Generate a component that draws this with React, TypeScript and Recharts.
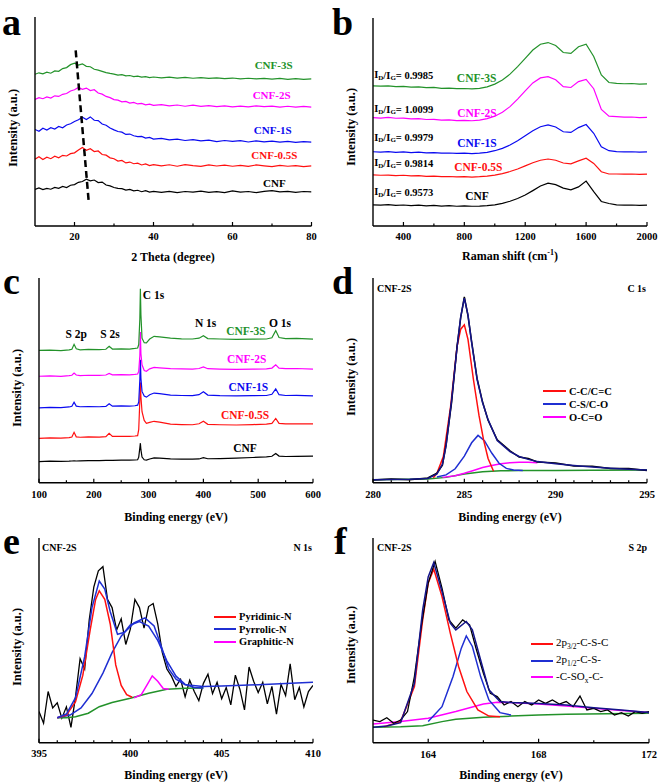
import React from "react";
import { LineChart, Line, XAxis, YAxis, ReferenceDot, ReferenceLine } from "recharts";

const FONT = "'Times New Roman', 'Liberation Serif', serif";
const GREEN = "#23922a";
const MAGENTA = "#ff00ff";
const BLUE = "#0a0af0";
const RED = "#ff1010";
const BLACK = "#000000";
const NAVY = "#14148a";
const FIT_BLUE = "#1f2fd2";

// ---- a: XRD ----
const thetaX = [
  10, 11, 12, 13, 14, 15, 16, 17, 18, 19, 20, 21, 22, 23, 24, 25, 26, 27, 28, 29, 30, 31, 32, 33, 34, 35, 36, 37, 38, 39,
  40, 42, 44, 46, 48, 50, 52, 54, 56, 58, 60, 62, 64, 66, 68, 70, 72, 74, 76, 78, 80,
];
const xrdCNF = [
  17.5, 18.2, 17.4, 18.0, 17.6, 18.5, 18.0, 18.9, 18.4, 19.5, 19.8, 20.9, 21.3, 22.4, 21.6, 22.0, 20.8, 21.0, 19.6, 19.2,
  18.4, 18.0, 17.9, 17.2, 17.5, 16.8, 17.1, 16.4, 16.9, 16.2, 16.6, 16.1, 16.6, 16.0, 16.5, 16.2, 16.7, 16.1, 16.4, 16.0,
  16.8, 16.2, 16.5, 16.0, 16.6, 16.9, 16.3, 16.6, 16.1, 16.5, 16.3,
];
const xrd05S = [
  32.0, 33.1, 31.8, 32.9, 32.2, 33.4, 32.6, 33.8, 33.5, 34.6, 35.0, 36.4, 37.6, 36.2, 37.0, 35.6, 35.9, 34.2, 33.9, 32.6,
  32.2, 31.1, 31.4, 30.2, 30.6, 29.8, 30.1, 29.2, 29.7, 28.9, 29.4, 28.8, 29.3, 28.6, 29.4, 28.9, 28.5, 29.2, 28.7, 29.1,
  28.6, 29.0, 28.5, 29.2, 28.8, 28.4, 29.0, 28.6, 28.9, 28.4, 28.8,
];
const xrd1S = [
  46.2, 45.3, 46.8, 45.9, 47.0, 46.4, 47.6, 47.0, 48.3, 48.9, 50.0, 50.8, 52.0, 50.9, 52.2, 50.6, 50.4, 48.8, 48.2, 46.9,
  46.0, 45.2, 44.9, 43.8, 44.0, 43.2, 42.8, 42.9, 42.1, 42.4, 41.6, 41.9, 41.2, 41.6, 40.9, 41.3, 40.7, 41.1, 40.4, 40.9,
  40.5, 40.8, 40.2, 40.7, 40.3, 40.6, 40.1, 40.5, 40.0, 40.4, 40.1,
];
const xrd2S = [
  60.6, 61.4, 60.9, 61.8, 61.2, 62.3, 62.0, 63.0, 63.4, 64.6, 65.2, 66.3, 65.4, 66.0, 64.8, 65.2, 63.6, 63.1, 62.0, 61.4,
  60.5, 60.2, 59.4, 59.6, 58.8, 59.1, 58.4, 58.7, 58.0, 58.3, 57.7, 58.1, 57.5, 57.9, 57.3, 57.8, 57.2, 57.6, 57.1, 57.5,
  57.0, 57.4, 57.0, 57.5, 57.1, 57.4, 56.9, 57.3, 56.9, 57.2, 56.9,
];
const xrd3S = [
  72.6, 73.3, 72.8, 73.6, 73.1, 74.2, 74.0, 75.3, 75.8, 77.2, 77.9, 77.0, 77.6, 76.4, 76.2, 75.0, 74.6, 74.0, 73.4, 73.0,
  72.7, 72.2, 72.4, 71.8, 72.0, 71.5, 71.7, 71.2, 71.5, 71.0, 71.3, 70.9, 71.2, 70.8, 71.1, 70.7, 71.0, 70.6, 70.9, 70.5,
  70.8, 70.4, 70.7, 70.4, 70.6, 70.3, 70.6, 70.2, 70.5, 70.2, 70.4,
];
// dashed guide through the (002) peak
const shiftGuide = [
  { x: 20.3, y: 84 },
  { x: 23.6, y: 11.6 },
];

// ---- b: Raman ----
const ramanX = [
  200, 250, 300, 350, 400, 450, 500, 550, 600, 650, 700, 750, 800, 850, 900, 950, 1000, 1050, 1100, 1150, 1200, 1250,
  1300, 1350, 1400, 1450, 1500, 1550, 1600, 1650, 1700, 1750, 1800, 1850, 1900, 1950, 2000,
];
const ramanCNF = [
  10.2, 10.0, 10.3, 9.9, 10.1, 9.8, 10.0, 9.7, 9.9, 9.6, 9.8, 9.5, 9.7, 9.5, 9.6, 9.8, 10.2, 10.9, 11.9, 13.2, 14.9, 17.0,
  19.2, 20.6, 19.9, 18.2, 17.4, 18.8, 21.6, 16.5, 11.8, 10.8, 10.2, 10.0, 10.1, 9.9, 10.0,
];
const raman05S = [
  24.6, 24.4, 24.5, 24.2, 24.4, 24.1, 24.2, 23.9, 24.0, 23.7, 23.8, 23.6, 23.7, 23.5, 23.7, 24.0, 24.5, 25.2, 26.2, 27.4,
  28.9, 30.4, 31.6, 32.2, 31.6, 30.3, 29.9, 31.3, 32.6, 30.1, 26.1, 25.0, 25.0, 24.9, 25.0, 24.8, 24.9,
];
const raman1S = [
  35.7, 35.5, 35.8, 35.4, 35.6, 35.3, 35.5, 35.2, 35.3, 35.0, 35.1, 34.9, 35.0, 34.8, 35.0, 35.4, 36.2, 37.3, 38.9, 41.0,
  43.4, 45.8, 47.7, 48.6, 47.6, 45.3, 45.0, 47.3, 48.8, 44.6, 38.1, 36.2, 35.8, 35.6, 35.7, 35.5, 35.6,
];
const raman2S = [
  52.1, 51.9, 52.2, 51.8, 51.9, 51.5, 51.6, 51.2, 51.3, 50.9, 51.0, 50.7, 50.8, 50.6, 50.9, 51.6, 52.8, 54.7, 57.4, 61.0,
  65.0, 68.8, 71.2, 71.8, 70.3, 67.0, 66.6, 69.4, 70.5, 66.0, 56.0, 52.8, 52.6, 52.3, 52.4, 52.1, 52.2,
];
const raman3S = [
  67.4, 67.2, 67.4, 67.0, 67.1, 66.8, 66.9, 66.5, 66.6, 66.2, 66.3, 66.0, 66.1, 65.9, 66.2, 66.9, 68.2, 70.2, 73.0, 76.6,
  80.6, 84.6, 87.4, 88.2, 86.8, 83.4, 83.0, 86.2, 87.4, 81.5, 72.6, 69.0, 68.6, 68.4, 68.5, 68.2, 68.3,
];
const idigRatios = ["0.9573", "0.9814", "0.9979", "1.0099", "0.9985"];

// ---- c: XPS survey ----
const surveyX = [
  100, 120, 140, 155, 160, 164, 168, 175, 190, 210, 222, 228, 234, 250, 265, 275, 280, 282, 284, 285, 286, 288, 292, 296,
  302, 310, 320, 340, 360, 380, 392, 400, 408, 430, 460, 490, 515, 525, 532, 538, 550, 570, 600,
];
const surveyCNF = [
  10.3, 10.5, 10.4, 10.5, 10.6, 10.7, 10.6, 10.7, 10.8, 10.8, 10.9, 10.9, 10.9, 11.0, 11.0, 11.1, 11.2, 12.5, 17.0, 19.3,
  16.0, 12.5, 11.2, 11.0, 11.6, 12.1, 12.0, 11.6, 11.5, 11.5, 11.6, 12.2, 11.7, 11.8, 12.0, 12.3, 12.6, 12.9, 14.3, 13.0,
  12.8, 12.9, 13.0,
];
const survey05S = [
  21.7, 21.9, 21.8, 22.0, 22.3, 24.6, 22.4, 22.2, 22.4, 22.3, 22.5, 24.1, 22.6, 22.7, 22.6, 22.8, 23.0, 26.0, 40.0, 49.0,
  42.0, 34.7, 30.4, 29.0, 29.5, 30.0, 29.6, 28.6, 28.4, 28.3, 28.8, 30.0, 28.5, 28.3, 28.2, 28.4, 28.6, 29.0, 31.4, 29.0,
  28.7, 28.8, 28.7,
];
const survey1S = [
  36.6, 36.8, 36.7, 37.0, 37.3, 39.3, 37.4, 37.1, 37.2, 37.1, 37.3, 38.6, 37.4, 37.5, 37.4, 37.6, 37.9, 39.5, 50.0, 60.0,
  51.0, 44.6, 42.3, 41.8, 43.0, 43.8, 43.5, 42.8, 42.6, 42.5, 43.0, 44.4, 42.8, 42.5, 42.4, 42.5, 42.6, 43.2, 45.8, 43.0,
  42.6, 42.7, 42.4,
];
const survey2S = [
  52.0, 52.2, 51.9, 52.3, 52.5, 53.6, 52.6, 52.3, 52.5, 52.4, 52.6, 53.4, 52.7, 52.8, 52.7, 52.9, 53.1, 54.5, 62.0, 73.6,
  63.0, 57.6, 54.8, 54.4, 55.6, 56.3, 56.1, 55.7, 55.6, 55.5, 55.8, 56.6, 55.7, 55.5, 55.4, 55.5, 55.6, 56.0, 57.6, 56.0,
  55.7, 55.8, 55.5,
];
const survey3S = [
  64.6, 64.8, 64.5, 64.9, 65.2, 67.6, 65.4, 64.9, 65.1, 65.0, 65.2, 66.6, 65.3, 65.4, 65.3, 65.6, 65.8, 67.5, 80.0, 94.8,
  82.0, 70.6, 68.4, 68.3, 70.2, 71.5, 71.2, 70.6, 70.3, 70.2, 70.6, 71.8, 70.4, 70.2, 70.0, 70.1, 70.2, 70.8, 74.3, 70.9,
  70.4, 70.5, 70.1,
];

// ---- d: C 1s ----
const c1sX = [
  280, 281, 282, 283, 283.5, 283.8, 284, 284.3, 284.6, 284.8, 285, 285.2, 285.4, 285.7, 286, 286.3, 286.8, 287.5, 288,
  288.5, 289, 290, 291, 292, 293, 294, 295,
];
const c1sRaw = [
  1.3, 1.8, 1.5, 2.3, 4.6, 8.6, 18.5, 39.0, 66.5, 80.5, 90.8, 81.5, 68.9, 50.8, 39.4, 30.5, 21.0, 15.6, 12.5, 11.8, 10.1,
  9.6, 8.2, 8.0, 6.9, 6.9, 6.0,
];
const c1sFit = [
  1.5, 1.6, 1.7, 2.1, 4.3, 9.0, 18.0, 40.0, 66.0, 81.0, 90.2, 82.0, 68.4, 50.4, 39.0, 30.8, 20.6, 15.2, 12.8, 11.4, 10.3,
  9.2, 8.4, 7.7, 7.1, 6.6, 6.2,
];
const c1sCCX = [283.3, 283.5, 283.85, 284.25, 284.6, 284.8, 285, 285.2, 285.5, 285.8, 286.05, 286.3, 286.6];
const c1sCC = [2.4, 4.6, 12.8, 37.3, 66.5, 75, 77.1, 70, 50.3, 33, 21, 11.8, 5.6];
const c1sCSX = [283.5, 284, 284.5, 285, 285.4, 285.75, 286.1, 286.5, 286.9, 287.3, 287.7, 288.2];
const c1sCS = [2.8, 3.8, 6.8, 13, 19.5, 23.1, 20.5, 14.5, 9.5, 7, 6.2, 6.0];
const c1sOCOX = [283.8, 284.5, 285, 285.5, 286, 286.5, 287, 287.5, 288, 288.5, 289];
const c1sOCO = [2.6, 3.4, 4.6, 6.0, 7.4, 8.4, 9.3, 9.8, 10.0, 10.0, 9.7];
const c1sBaseX = [280, 283, 284, 285, 286, 286.5, 287, 288, 290, 292, 295];
const c1sBase = [1.5, 1.8, 2.6, 4.3, 5.3, 5.6, 5.8, 5.9, 6.0, 6.1, 6.2];

// ---- e: N 1s ----
const n1sX = [
  395, 395.25, 395.5, 395.75, 396, 396.25, 396.5, 396.75, 397, 397.25, 397.5, 397.75, 398, 398.25, 398.5, 398.75, 399,
  399.25, 399.5, 399.75, 400, 400.25, 400.5, 400.75, 401, 401.25, 401.5, 401.75, 402, 402.25, 402.5, 402.75, 403, 403.25,
  403.5, 403.75, 404, 404.25, 404.5, 404.75, 405, 405.25, 405.5, 405.75, 406, 406.25, 406.5, 406.75, 407, 407.25, 407.5,
  407.75, 408, 408.25, 408.5, 408.75, 409, 409.25, 409.5, 409.75, 410,
];
const n1sRaw = [
  15.2, 9.5, 25.0, 17.0, 19.5, 12.0, 17.5, 7.5, 22.5, 41.0, 36.0, 60.0, 76.0, 84.0, 86.0, 70.0, 66.0, 55.0, 60.5, 48.0,
  55.5, 70.0, 66.0, 56.0, 66.5, 68.0, 58.0, 44.0, 36.0, 32.5, 27.5, 31.0, 22.5, 30.5, 25.0, 20.5, 29.0, 33.5, 24.0, 29.5,
  21.5, 27.0, 18.5, 33.0, 26.0, 16.0, 37.0, 30.0, 24.5, 29.5, 19.0, 27.5, 14.0, 28.5, 23.0, 38.5, 21.0, 27.0, 17.5, 25.0,
  28.0,
];
const n1sFitX = [396, 396.5, 397, 397.5, 397.9, 398.3, 398.6, 398.9, 399.3, 399.7, 400.2, 400.8, 401.3, 401.7, 402.1, 402.5, 403, 404, 405, 407, 410];
const n1sFit = [12.2, 14, 22, 42, 66, 79, 75, 64, 53, 54, 58.5, 61, 57, 47, 36, 31, 28.3, 27.4, 27.7, 28.3, 29.5];
const pyridinicX = [396, 396.5, 397, 397.4, 397.8, 398.1, 398.3, 398.6, 398.9, 399.2, 399.5, 399.8, 400.1];
const pyridinic = [12.2, 13.5, 20, 33, 55, 70, 74.2, 70, 58, 38, 28, 23.5, 22.2];
const pyrrolicX = [396, 396.7, 397.3, 397.9, 398.5, 399, 399.5, 400, 400.5, 401, 401.5, 402, 402.5, 403, 403.5, 404];
const pyrrolic = [12.2, 13.5, 17, 24, 34, 44, 52, 57.5, 59.2, 57, 50, 40, 32.5, 28.5, 27, 26.7];
const graphiticX = [400.2, 400.6, 400.9, 401.2, 401.5, 401.8, 402.1];
const graphitic = [21.9, 23.5, 28, 32.6, 30, 26.5, 26.1];
const n1sBaseX = [396, 396.5, 397, 397.7, 398.3, 399, 400, 401, 402, 403, 404];
const n1sBase = [12.2, 12.2, 12.7, 14.4, 17.6, 19.6, 21.7, 24.2, 26.1, 26.6, 26.7];

// ---- f: S 2p ----
const s2pX = [
  162, 162.25, 162.5, 162.75, 163, 163.25, 163.5, 163.75, 164, 164.25, 164.5, 164.75, 165, 165.25, 165.5, 165.75, 166,
  166.25, 166.5, 166.75, 167, 167.25, 167.5, 167.75, 168, 168.25, 168.5, 168.75, 169, 169.25, 169.5, 169.75, 170, 170.25,
  170.5, 170.75, 171, 171.25, 171.5, 171.75, 172,
];
const s2pRaw = [
  11.0, 10.3, 12.2, 9.5, 11.1, 15.2, 32.3, 56.8, 78.0, 88.6, 75.5, 60.0, 56.0, 60.0, 57.6, 45.3, 33.9, 24.1, 22.5, 18.4,
  20.1, 17.6, 20.1, 18.4, 20.9, 19.2, 20.9, 18.9, 20.1, 17.6, 22.8, 16.0, 16.8, 15.2, 16.0, 13.5, 14.7, 13.0, 15.2, 14.4,
  15.2,
];
const s2pFitX = [162, 162.5, 163, 163.5, 163.8, 164, 164.2, 164.5, 164.8, 165, 165.38, 165.6, 165.9, 166.2, 166.6, 167, 168, 169, 170, 171, 172];
const s2pFit = [7.5, 8.2, 9.8, 29, 64.9, 81, 88, 73.9, 58.4, 55.1, 59.2, 55.1, 40.4, 25.8, 20.1, 19.6, 19.2, 18.4, 17.1, 16, 14.7];
const p32X = [162.4, 163, 163.5, 163.8, 164, 164.2, 164.5, 164.8, 165.1, 165.4, 165.8, 166.2, 166.6];
const p32 = [7.8, 10.3, 27.4, 60, 78, 84.8, 71.4, 53.5, 37.2, 25, 16, 13, 12.7];
const p12X = [164, 164.5, 164.9, 165.2, 165.38, 165.6, 165.9, 166.2, 166.6, 167];
const p12 = [10.3, 17.6, 32.3, 46.2, 52.2, 47, 32.3, 20.9, 14.7, 13.5];
const soxX = [162, 163, 164, 165, 166, 166.5, 167, 168, 169, 170, 171, 172];
const sox = [9.1, 10.3, 11.9, 15.2, 18.9, 19.7, 19.6, 18.9, 17.9, 16.8, 15.7, 14.7];
const s2pBaseX = [162, 163, 163.8, 164.5, 165, 166, 167, 168, 169, 172];
const s2pBase = [7.5, 7.8, 8.3, 10.3, 11.4, 12.4, 13, 13.5, 13.9, 14.4];

type Series = { xs: number[]; ys: number[]; color: string; width?: number };
type Note = { x: number; y: number; text: string; color?: string; size?: number; anchor?: "start" | "middle" | "end"; ratio?: boolean };
type Frame = { left: number; top: number; width: number; height: number; yw: number; mr: number; mt: number; xh: number };

const pts = (xs: number[], ys: number[]) => xs.map((x, i) => ({ x, y: ys[i] }));
const AXIS_LINE = { stroke: "#000", strokeWidth: 1.4 };

function tickRenderer(major: number[], gap: number) {
  return (props: any) => {
    const { x, y, payload } = props;
    const isMajor = major.includes(payload.value);
    return (
      <g>
        <line x1={x} x2={x} y1={y} y2={y - (isMajor ? 4 : 2.5)} stroke="#000" strokeWidth={1.2} />
        {isMajor ? (
          <text x={x} y={y + gap} textAnchor="middle" fontFamily={FONT} fontWeight="bold" fontSize={10.5} fill="#000">
            {payload.value}
          </text>
        ) : null}
      </g>
    );
  };
}

function noteShape(n: Note) {
  return (p: any) => {
    const common = { fontFamily: FONT, fontWeight: "bold", fontSize: n.size ?? 11, dominantBaseline: "central" } as any;
    if (n.ratio) {
      return (
        <text x={p.cx} y={p.cy} textAnchor="start" fill="#000" {...common}>
          I<tspan dy={3} fontSize={7}>D</tspan>
          <tspan dy={-3}>/I</tspan>
          <tspan dy={3} fontSize={7}>G</tspan>
          <tspan dy={-3}>= {n.text}</tspan>
        </text>
      );
    }
    return (
      <text x={p.cx} y={p.cy} textAnchor={n.anchor ?? "middle"} fill={n.color ?? "#000"} {...common}>
        {n.text}
      </text>
    );
  };
}

function PanelChart(props: {
  f: Frame;
  domain: [number, number];
  major: number[];
  minor: number[];
  gap: number;
  series: Series[];
  notes?: Note[];
  children?: React.ReactNode;
}) {
  const { f, domain, major, minor, gap, series, notes = [], children } = props;
  return (
    <div style={{ position: "absolute", left: f.left, top: f.top }}>
      <LineChart width={f.width} height={f.height} margin={{ top: f.mt, right: f.mr, bottom: 0, left: 0 }}>
        <XAxis
          dataKey="x"
          type="number"
          domain={domain}
          allowDataOverflow
          ticks={[...major, ...minor]}
          interval={0}
          tick={tickRenderer(major, gap)}
          tickLine={false}
          tickSize={0}
          tickMargin={0}
          height={f.xh}
          axisLine={AXIS_LINE}
        />
        <XAxis xAxisId="top" orientation="top" dataKey="x" type="number" domain={domain} allowDataOverflow height={0} tick={false} tickLine={false} axisLine={AXIS_LINE} />
        <YAxis type="number" domain={[0, 100]} allowDataOverflow width={f.yw} tick={false} tickLine={false} axisLine={AXIS_LINE} />
        <YAxis yAxisId="right" orientation="right" type="number" domain={[0, 100]} allowDataOverflow width={0} tick={false} tickLine={false} axisLine={AXIS_LINE} />
        {series.map((s, i) => (
          <Line
            key={`s${i}`}
            data={pts(s.xs, s.ys)}
            dataKey="y"
            stroke={s.color}
            strokeWidth={s.width ?? 1.2}
            dot={false}
            activeDot={false}
            isAnimationActive={false}
          />
        ))}
        {notes.map((n, i) => (
          <ReferenceDot key={`n${i}`} x={n.x} y={n.y} r={0} ifOverflow="visible" shape={noteShape(n)} />
        ))}
        {children}
      </LineChart>
    </div>
  );
}

function Txt(props: { x: number; y: number; children: React.ReactNode; size?: number; anchor?: "start" | "center" | "end"; rotate?: boolean; color?: string; weight?: string }) {
  const { x, y, children, size = 12, anchor = "center", rotate = false, color = "#000", weight = "bold" } = props;
  const tx = anchor === "center" ? "-50%" : anchor === "end" ? "-100%" : "0";
  return (
    <div
      style={{
        position: "absolute",
        left: x,
        top: y,
        transform: `translate(${tx}, -50%)${rotate ? " rotate(-90deg)" : ""}`,
        fontFamily: FONT,
        fontSize: size,
        fontWeight: weight as any,
        color,
        whiteSpace: "nowrap",
        lineHeight: 1,
      }}
    >
      {children}
    </div>
  );
}

function Letter({ x, y, ch }: { x: number; y: number; ch: string }) {
  return (
    <div style={{ position: "absolute", left: x, top: y, fontFamily: FONT, fontSize: 38, fontWeight: "bold", lineHeight: "normal" }}>{ch}</div>
  );
}

function LegendBox(props: { left: number; top: number; rowH: number; swatch: number; items: { label: React.ReactNode; color: string }[]; weight?: string; size?: number }) {
  const { left, top, rowH, swatch, items, weight = "bold", size = 10.5 } = props;
  return (
    <div style={{ position: "absolute", left, top, fontFamily: FONT, fontSize: size, fontWeight: weight as any }}>
      {items.map((it, i) => (
        <div key={i} style={{ display: "flex", alignItems: "center", height: rowH, whiteSpace: "nowrap" }}>
          <span style={{ display: "inline-block", width: swatch, height: 0, borderTop: `2px solid ${it.color}`, marginRight: 3 }} />
          <span>{it.label}</span>
        </div>
      ))}
    </div>
  );
}

const frameA: Frame = { left: 0, top: 0, width: 330, height: 262, yw: 35, mr: 18.5, mt: 17, xh: 36 };
const frameB: Frame = { left: 330, top: 0, width: 331, height: 262, yw: 43, mr: 14, mt: 18, xh: 36 };
const frameC: Frame = { left: 0, top: 260, width: 330, height: 262, yw: 39, mr: 17, mt: 18, xh: 39.3 };
const frameD: Frame = { left: 330, top: 260, width: 331, height: 262, yw: 43, mr: 14, mt: 18, xh: 39.3 };
const frameE: Frame = { left: 0, top: 520, width: 330, height: 263, yw: 39, mr: 17, mt: 18, xh: 40.3 };
const frameF: Frame = { left: 330, top: 520, width: 331, height: 263, yw: 43, mr: 12, mt: 18, xh: 40.3 };

const sampleNames = ["CNF", "CNF-0.5S", "CNF-1S", "CNF-2S", "CNF-3S"];
const sampleColors = [BLACK, RED, BLUE, MAGENTA, GREEN];

export default function App() {
  const seriesA: Series[] = [xrdCNF, xrd05S, xrd1S, xrd2S, xrd3S].map((ys, i) => ({ xs: thetaX, ys, color: sampleColors[i] }));
  const seriesB: Series[] = [ramanCNF, raman05S, raman1S, raman2S, raman3S].map((ys, i) => ({ xs: ramanX, ys, color: sampleColors[i] }));
  const seriesC: Series[] = [surveyCNF, survey05S, survey1S, survey2S, survey3S].map((ys, i) => ({ xs: surveyX, ys, color: sampleColors[i] }));

  const labelXA = [70.6, 70.6, 70.2, 69.9, 70.4];
  const labelYA = [20.7, 34, 45.9, 62.7, 77];
  const notesA: Note[] = sampleNames.map((t, i) => ({ x: labelXA[i], y: labelYA[i], text: t, color: sampleColors[i] }));

  const labelXB = [883, 892, 883, 883, 881];
  const labelYB = [14.4, 28.2, 40, 54.5, 71];
  const ratioYB = [16.5, 30.4, 42.6, 56.3, 72.6];
  const notesB: Note[] = [
    ...sampleNames.map((t, i) => ({ x: labelXB[i], y: labelYB[i], text: t, color: sampleColors[i], size: 11.5 })),
    ...idigRatios.map((t, i) => ({ x: 208, y: ratioYB[i], text: t, ratio: true, size: 10.5 })),
  ];

  const labelXC = [476, 476, 482, 479, 477.7];
  const labelYC = [16.8, 33.1, 46.7, 60.4, 73.9];
  const notesC: Note[] = [
    ...sampleNames.map((t, i) => ({ x: labelXC[i], y: labelYC[i], text: t, color: sampleColors[i], size: 11.5 })),
    { x: 168, y: 72.6, text: "S 2p", size: 11.5 },
    { x: 229.6, y: 72.6, text: "S 2s", size: 11.5 },
    { x: 309, y: 91.5, text: "C 1s", size: 11.5 },
    { x: 404, y: 78, text: "N 1s", size: 11.5 },
    { x: 539.8, y: 78, text: "O 1s", size: 11.5 },
  ];

  const seriesD: Series[] = [
    { xs: c1sBaseX, ys: c1sBase, color: GREEN, width: 1.5 },
    { xs: c1sOCOX, ys: c1sOCO, color: MAGENTA, width: 1.5 },
    { xs: c1sCSX, ys: c1sCS, color: FIT_BLUE, width: 1.5 },
    { xs: c1sCCX, ys: c1sCC, color: RED, width: 1.5 },
    { xs: c1sX, ys: c1sRaw, color: BLACK, width: 1.5 },
    { xs: c1sX, ys: c1sFit, color: NAVY, width: 1.5 },
  ];
  const seriesE: Series[] = [
    { xs: n1sX, ys: n1sRaw, color: BLACK, width: 1.3 },
    { xs: n1sBaseX, ys: n1sBase, color: GREEN, width: 1.5 },
    { xs: graphiticX, ys: graphitic, color: MAGENTA, width: 1.5 },
    { xs: pyrrolicX, ys: pyrrolic, color: FIT_BLUE, width: 1.5 },
    { xs: pyridinicX, ys: pyridinic, color: RED, width: 1.5 },
    { xs: n1sFitX, ys: n1sFit, color: FIT_BLUE, width: 1.5 },
  ];
  const seriesF: Series[] = [
    { xs: s2pBaseX, ys: s2pBase, color: GREEN, width: 1.5 },
    { xs: soxX, ys: sox, color: MAGENTA, width: 1.5 },
    { xs: p12X, ys: p12, color: FIT_BLUE, width: 1.5 },
    { xs: p32X, ys: p32, color: RED, width: 1.5 },
    { xs: s2pX, ys: s2pRaw, color: BLACK, width: 1.3 },
    { xs: s2pFitX, ys: s2pFit, color: NAVY, width: 1.5 },
  ];

  return (
    <div style={{ position: "absolute", left: 0, top: 0, width: 661, height: 783, background: "#fff", overflow: "hidden" }}>
      <PanelChart f={frameA} domain={[10, 80]} major={[20, 40, 60, 80]} minor={[30, 50, 70]} gap={13.5} series={seriesA} notes={notesA}>
        <ReferenceLine segment={shiftGuide} stroke="#000" strokeWidth={2.5} strokeDasharray="7 4" ifOverflow="visible" />
      </PanelChart>
      <PanelChart f={frameB} domain={[200, 2000]} major={[400, 800, 1200, 1600, 2000]} minor={[600, 1000, 1400, 1800]} gap={14} series={seriesB} notes={notesB} />
      <PanelChart f={frameC} domain={[100, 600]} major={[100, 200, 300, 400, 500, 600]} minor={[150, 250, 350, 450, 550]} gap={15} series={seriesC} notes={notesC} />
      <PanelChart
        f={frameD}
        domain={[280, 295]}
        major={[280, 285, 290, 295]}
        minor={[281, 282, 283, 284, 286, 287, 288, 289, 291, 292, 293, 294]}
        gap={15}
        series={seriesD}
      />
      <PanelChart
        f={frameE}
        domain={[395, 410]}
        major={[395, 400, 405, 410]}
        minor={[396, 397, 398, 399, 401, 402, 403, 404, 406, 407, 408, 409]}
        gap={14}
        series={seriesE}
      />
      <PanelChart f={frameF} domain={[162, 172]} major={[164, 168, 172]} minor={[166, 170]} gap={15} series={seriesF} />

      <Letter x={2} y={0} ch="a" />
      <Letter x={332} y={0} ch="b" />
      <Letter x={3} y={259} ch="c" />
      <Letter x={332} y={259} ch="d" />
      <Letter x={3} y={519} ch="e" />
      <Letter x={334} y={519} ch="f" />

      <Txt x={173} y={256.5}>2 Theta (degree)</Txt>
      <Txt x={510} y={255}>
        Raman shift (cm<sup style={{ fontSize: 8 }}>-1</sup>)
      </Txt>
      <Txt x={176} y={517}>Binding energy (eV)</Txt>
      <Txt x={510} y={517}>Binding energy (eV)</Txt>
      <Txt x={176} y={775}>Binding energy (eV)</Txt>
      <Txt x={511} y={775}>Binding energy (eV)</Txt>

      <Txt x={13} y={128} rotate size={12.5}>Intensity (a.u.)</Txt>
      <Txt x={350.7} y={126.7} rotate size={12.5}>Intensity (a.u.)</Txt>
      <Txt x={16.7} y={388} rotate size={12.5}>Intensity (a.u.)</Txt>
      <Txt x={350.7} y={377} rotate size={12.5}>Intensity (a.u.)</Txt>
      <Txt x={16.7} y={646.5} rotate size={12.5}>Intensity (a.u.)</Txt>
      <Txt x={350.7} y={645} rotate size={12.5}>Intensity (a.u.)</Txt>

      <Txt x={377} y={289} anchor="start" size={10}>CNF-2S</Txt>
      <Txt x={646} y={289} anchor="end" size={10}>C 1s</Txt>
      <Txt x={42} y={547.7} anchor="start" size={10}>CNF-2S</Txt>
      <Txt x={312} y={547.7} anchor="end" size={10}>N 1s</Txt>
      <Txt x={377} y={547.7} anchor="start" size={10}>CNF-2S</Txt>
      <Txt x={647} y={547.7} anchor="end" size={10}>S 2p</Txt>

      <LegendBox
        left={543}
        top={384.5}
        rowH={13}
        swatch={23}
        items={[
          { label: "C-C/C=C", color: RED },
          { label: "C-S/C-O", color: FIT_BLUE },
          { label: "O-C=O", color: MAGENTA },
        ]}
      />
      <LegendBox
        left={214}
        top={610.5}
        rowH={12.5}
        swatch={22}
        items={[
          { label: "Pyridinic-N", color: RED },
          { label: "Pyrrolic-N", color: FIT_BLUE },
          { label: "Graphitic-N", color: MAGENTA },
        ]}
      />
      <LegendBox
        left={531}
        top={635.7}
        rowH={16.7}
        swatch={22}
        weight="normal"
        size={11}
        items={[
          { label: <>2p<sub style={{ fontSize: 7.5 }}>3/2</sub>-C-S-C</>, color: RED },
          { label: <>2p<sub style={{ fontSize: 7.5 }}>1/2</sub>-C-S-</>, color: FIT_BLUE },
          { label: <>-C-SO<sub style={{ fontSize: 7.5 }}>x</sub>-C-</>, color: MAGENTA },
        ]}
      />
    </div>
  );
}
